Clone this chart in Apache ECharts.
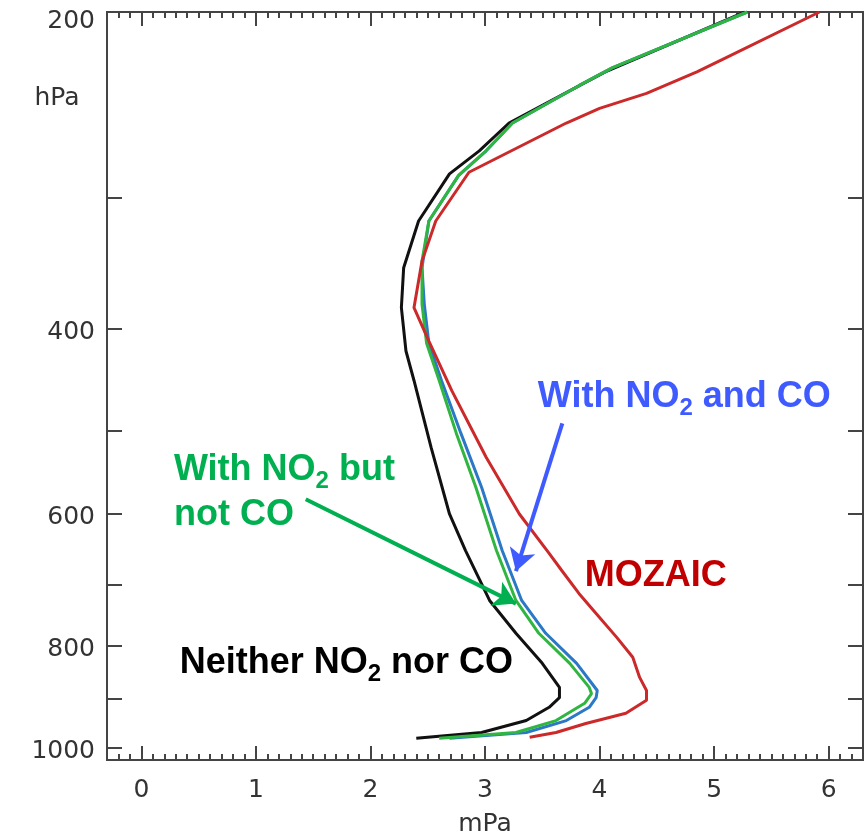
<!DOCTYPE html>
<html><head><meta charset="utf-8">
<script src="https://cdn.jsdelivr.net/npm/echarts@6/dist/echarts.min.js"></script>
<style>html,body{margin:0;padding:0;background:#fff}#c{width:868px;height:833px}</style>
</head><body><div id="c"></div>
<script>
// ---- data (ozone partial pressure in mPa vs pressure in hPa) ----
const blackP = [200, 228, 255, 271, 285, 316, 350, 382, 420, 448, 519, 600, 650, 725, 779, 832, 877, 897, 916, 943, 968, 980];
const blackX = [5.27, 4.05, 3.21, 2.95, 2.69, 2.42, 2.29, 2.27, 2.31, 2.38, 2.53, 2.69, 2.83, 3.04, 3.27, 3.50, 3.65, 3.65, 3.56, 3.36, 2.97, 2.40];

const greenP = [200, 226, 235, 255, 271, 286, 316, 345, 379, 413, 448, 503, 566, 650, 725, 779, 832, 877, 889, 908, 943, 968, 980];
const greenX = [5.29, 4.11, 3.82, 3.24, 3.01, 2.77, 2.51, 2.45, 2.45, 2.49, 2.60, 2.75, 2.92, 3.10, 3.27, 3.47, 3.74, 3.91, 3.93, 3.87, 3.62, 3.27, 2.60];

const blueP = [200, 226, 235, 255, 271, 286, 316, 350, 379, 413, 448, 503, 566, 650, 725, 779, 832, 883, 897, 916, 943, 968, 980];
const blueX = [5.29, 4.11, 3.82, 3.24, 3.01, 2.77, 2.51, 2.45, 2.47, 2.51, 2.62, 2.79, 2.97, 3.15, 3.32, 3.53, 3.80, 3.98, 3.97, 3.91, 3.71, 3.36, 2.69];

const redP = [200, 222, 228, 239, 247, 255, 284, 316, 345, 382, 411, 458, 530, 600, 654, 679, 714, 746, 786, 821, 858, 883, 902, 928, 949, 968, 978];
const redX = [5.92, 5.07, 4.85, 4.41, 4.00, 3.71, 2.86, 2.57, 2.45, 2.38, 2.51, 2.71, 3.01, 3.30, 3.56, 3.67, 3.82, 3.97, 4.15, 4.29, 4.35, 4.41, 4.41, 4.23, 3.88, 3.62, 3.39];

// ---- axes ----
const pLabels = [200, 400, 600, 800, 1000];
const pTicks = [200, 300, 400, 500, 600, 700, 800, 900, 1000];
const xLabels = [0, 1, 2, 3, 4, 5, 6];
const xMin = -0.3, xMax = 6.3;
const pTop = 200, pBottom = 1028;

// ---- annotations (data coordinates: mPa, hPa) ----
const noteBlue = { x: 3.456, p: 465 };
const noteGreen = { x: 0.28, p: 573 };
const noteBlack = { x: 0.33, p: 832 };
const noteRed = { x: 3.867, p: 688 };
const arrowBlue = [[3.675, 492], [3.27, 680]];
const arrowGreen = [[1.435, 581], [3.27, 730]];

const xMinor = [];
for (let i = Math.round(xMin * 10); i <= Math.round(xMax * 10); i++) { if (i % 10 !== 0) xMinor.push(i / 10); }

const L = Math.log10;
const AX = '#444';
const LBL = { fontFamily: 'DejaVu Sans', fontSize: 25, color: '#333' };
const zip = (xs, ps) => xs.map((x, i) => [x, L(ps[i])]);

function xAxisDef(pos, ticks, len, labels) {
  return {
    type: 'value', position: pos, min: xMin, max: xMax, gridIndex: 0,
    axisLine: { show: true, onZero: false, lineStyle: { color: AX, width: 2 } },
    axisTick: { show: true, inside: true, length: len, customValues: ticks, lineStyle: { color: AX, width: 2 } },
    axisLabel: labels ? Object.assign({ show: true, customValues: xLabels, margin: 18 }, LBL) : { show: false },
    splitLine: { show: false }, minorTick: { show: false }
  };
}
function yAxisDef(pos, labels) {
  return {
    type: 'value', position: pos, min: L(pTop), max: L(pBottom), inverse: true,
    axisLine: { show: true, onZero: false, lineStyle: { color: AX, width: 2 } },
    axisTick: { show: true, inside: true, length: 15, customValues: pTicks.map(L), lineStyle: { color: AX, width: 2 } },
    axisLabel: labels ? Object.assign({
      show: true, customValues: pLabels.map(L), margin: 12,
      formatter: v => { const p = Math.round(Math.pow(10, v)); return p === 200 ? '{t|' + p + '}' : '{n|' + p + '}'; },
      rich: { t: Object.assign({ padding: [18, 0, 0, 0] }, LBL), n: Object.assign({ padding: [8, 0, 0, 0] }, LBL) }
    }, LBL) : { show: false },
    splitLine: { show: false }
  };
}
function note(color, text, n) {
  return {
    symbol: 'rect', symbolSize: 1, silent: true, animation: false,
    itemStyle: { color: 'rgba(0,0,0,0)' },
    label: {
      show: true, position: 'right', distance: 0, formatter: text,
      fontFamily: 'Liberation Sans', fontWeight: 'bold', fontSize: 36, lineHeight: 45, color: color, align: 'left',
      rich: { s: { fontFamily: 'Liberation Sans', fontWeight: 'bold', fontSize: 24, lineHeight: 23, padding: [22, 0, 0, 0], color: color } }
    },
    data: [{ coord: [n.x, L(n.p)] }]
  };
}
function arrow(color, a) {
  return {
    symbol: ['none', 'arrow'], symbolSize: [20, 22], silent: true, animation: false,
    lineStyle: { color: color, width: 4, type: 'solid' }, label: { show: false },
    emphasis: { disabled: true },
    data: [[{ coord: [a[0][0], L(a[0][1])] }, { coord: [a[1][0], L(a[1][1])] }]]
  };
}
function line(name, xs, ps, color, extra) {
  return Object.assign({
    name: name, type: 'line', xAxisIndex: 0, yAxisIndex: 0, data: zip(xs, ps),
    showSymbol: false, symbol: 'none', smooth: false, animation: false, silent: true,
    lineStyle: { color: color, width: 3 }, itemStyle: { color: color }
  }, extra || {});
}

const chart = echarts.init(document.getElementById('c'), null, { renderer: 'canvas' });
chart.setOption({
  backgroundColor: '#fff',
  animation: false,
  grid: { left: 107, right: 5, top: 12, bottom: 73, outerBoundsMode: 'none', containLabel: false },
  xAxis: [
    Object.assign(xAxisDef('bottom', xLabels, 14, true), {
      name: 'mPa', nameLocation: 'middle', nameGap: 52, nameTextStyle: LBL
    }),
    xAxisDef('bottom', xMinor, 6, false),
    xAxisDef('top', xLabels, 14, false),
    xAxisDef('top', xMinor, 6, false)
  ],
  yAxis: [yAxisDef('left', true), yAxisDef('right', false)],
  graphic: [{ type: 'text', x: 57, y: 98, style: { text: 'hPa', align: 'center', verticalAlign: 'middle', fill: '#333', font: '25px "DejaVu Sans"' } }],
  series: [
    line('Neither NO2 nor CO', blackX, blackP, '#111111', {
      markPoint: note('#000000', 'Neither NO{s|2} nor CO', noteBlack)
    }),
    line('With NO2 and CO', blueX, blueP, '#2b78c6', {
      markPoint: note('#3f5bff', 'With NO{s|2} and CO', noteBlue),
      markLine: arrow('#3f5bff', arrowBlue)
    }),
    line('With NO2 but not CO', greenX, greenP, '#30b640', {
      markPoint: note('#00b050', 'With NO{s|2} but\nnot CO', noteGreen),
      markLine: arrow('#00b050', arrowGreen)
    }),
    line('MOZAIC', redX, redP, '#cc2a2a', {
      markPoint: note('#c00000', 'MOZAIC', noteRed)
    })
  ]
});
</script></body></html>
